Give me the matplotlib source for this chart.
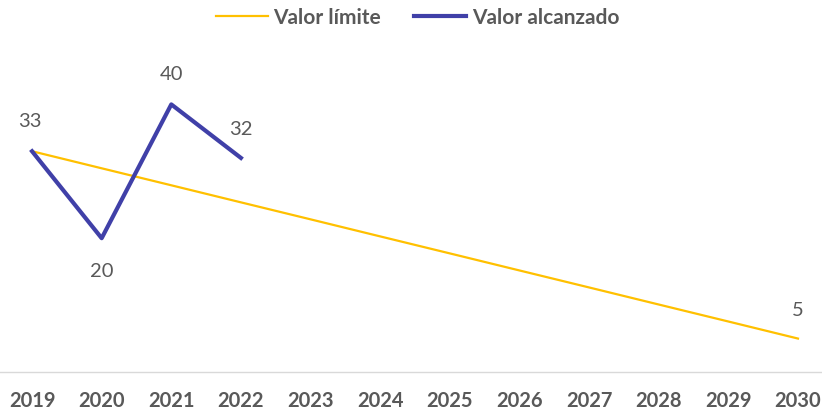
import matplotlib.pyplot as plt

# data
years = list(range(2019, 2031))
limite = [33, 30.45, 27.91, 25.36, 22.82, 20.27, 17.73, 15.18, 12.64, 10.09, 7.55, 5]
alcanzado = [33, 20, 40, 32]
alc_years = years[:4]

lbl_pts = [(2019, 33, (-2, 31)), (2020, 20, (0, -32)), (2021, 40, (0, 31)),
           (2022, 32, (0, 29)), (2030, 5, (0, 29))]

plt.rcParams['font.family'] = ['Lato', 'DejaVu Sans']
fig = plt.figure(figsize=(8.22, 4.14), dpi=100)
ax = fig.add_axes([0, 0.099, 1, 0.808])

ax.plot(years, limite, color='#FFC000', lw=1.6, label='Valor límite')
ax.plot(alc_years, alcanzado, color='#4040A8', lw=3, label='Valor alcanzado')

for x, y, off in lbl_pts:
    ax.annotate(str(y), (x, y), xytext=off, textcoords='offset pixels',
                ha='center', va='center', fontsize=14.5, color='#595959')

ax.set_xlim(2018.54, 2030.345)
ax.set_ylim(0, 50)
ax.set_yticks([])
ax.set_xticks(years)
ax.set_xticklabels([str(y) for y in years], fontsize=14.5, fontweight='bold', color='#595959')
ax.tick_params(axis='x', length=0, pad=13)
for s in ['top', 'right', 'left']:
    ax.spines[s].set_visible(False)
ax.spines['bottom'].set_color('#D9D9D9')
ax.spines['bottom'].set_linewidth(1)

leg = fig.legend(loc='upper center', bbox_to_anchor=(0.508, 1.025), ncol=2, frameon=False,
                 handlelength=2.5, handletextpad=0.25, columnspacing=1.6,
                 prop={'weight': 'bold', 'size': 15})
for t in leg.get_texts():
    t.set_color('#595959')

fig.savefig('out.png', dpi=100)
